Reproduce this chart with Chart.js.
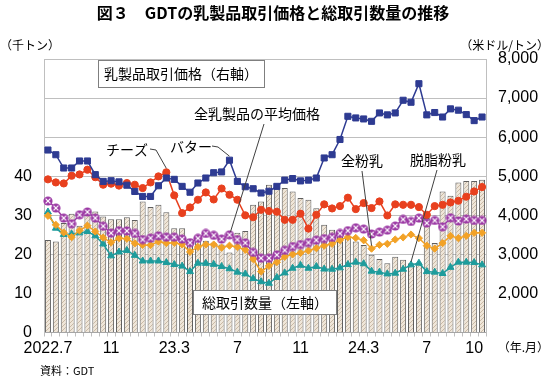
<!DOCTYPE html>
<html><head><meta charset="utf-8">
<script src="https://cdn.jsdelivr.net/npm/chart.js@4.4.1/dist/chart.umd.min.js"></script>
<style>html,body{margin:0;padding:0;background:#fff;}#wrap{width:550px;height:381px;position:relative;}</style>
</head><body><div id="wrap"><canvas id="c" width="550" height="381"></canvas></div>
<script>
// GDT auctions (two per month), 2022.7 - 2024.10
const categories = [
 '2022.7-1','2022.7-2','2022.8-1','2022.8-2','2022.9-1','2022.9-2','2022.10-1','2022.10-2',
 '2022.11-1','2022.11-2','2022.12-1','2022.12-2','2023.1-1','2023.1-2','2023.2-1','2023.2-2',
 '2023.3-1','2023.3-2','2023.4-1','2023.4-2','2023.5-1','2023.5-2','2023.6-1','2023.6-2',
 '2023.7-1','2023.7-2','2023.8-1','2023.8-2','2023.9-1','2023.9-2','2023.10-1','2023.10-2',
 '2023.11-1','2023.11-2','2023.12-1','2023.12-2','2024.1-1','2024.1-2','2024.2-1','2024.2-2',
 '2024.3-1','2024.3-2','2024.4-1','2024.4-2','2024.5-1','2024.5-2','2024.6-1','2024.6-2',
 '2024.7-1','2024.7-2','2024.8-1','2024.8-2','2024.9-1','2024.9-2','2024.10-1','2024.10-2'];
const tickCategories = ['2022.7-1','2022.11-1','2023.3-1','2023.7-1','2023.11-1','2024.3-1','2024.7-1','2024.10-1'];
const tickTexts = ['2022.7','11','23.3','7','11','24.3','7','10'];

// total traded volume (thousand tonnes, left axis)
const volume = [23.7,23.3,28.0,30.4,27.3,30.1,31.0,29.7,29.0,29.0,
 29.5,28.8,33.5,32.1,32.7,30.8,26.7,26.7,23.9,24.2,
 23.5,23.0,22.5,20.5,25.5,26.0,32.7,33.5,37.8,37.4,
 37.0,36.1,34.4,34.0,31.8,27.6,26.3,25.4,24.6,23.3,
 22.4,19.9,18.8,17.7,19.4,18.6,17.7,17.9,29.3,22.9,
 36.1,35.0,38.4,38.8,38.8,39.1];
// prices (US$/t, right axis)
const butter = [5670,5550,5210,5210,5390,5390,5040,4867,4885,4855,
 4770,4610,4482,4482,4756,4954,4920,4740,4590,4826,
 4954,5090,5110,5410,4867,4730,4680,4570,4615,4740,
 4900,4940,4880,4900,4954,5467,5551,5940,6533,6492,
 6466,6405,6620,6570,6620,6944,6893,7368,6570,6630,
 6515,6723,6690,6577,6423,6515];
const cheese = [4920,4841,4815,5013,5045,5167,4975,4782,4808,4760,
 4826,4782,4697,4841,4995,5100,4510,4056,4200,4397,
 4585,4405,4685,4526,4397,4000,3950,4141,4110,4090,
 3885,3885,4040,3660,4013,4280,4175,4235,4450,4159,
 4313,4185,4354,3995,4280,4269,4269,4210,4013,4235,
 4269,4328,4372,4475,4610,4723];
const average = [4365,4185,3928,3782,4013,4085,3928,3720,3544,3605,
 3600,3535,3380,3415,3474,3440,3440,3390,3300,3410,
 3535,3487,3390,3500,3380,3295,3050,2903,2903,2987,
 3105,3200,3252,3303,3363,3403,3435,3535,3607,3680,
 3646,3522,3570,3620,3725,3895,3841,3928,3800,3867,
 3705,3936,3855,3903,3867,3867];
const wmp = [3987,3756,3559,3441,3610,3735,3585,3428,3303,3415,
 3400,3280,3240,3235,3328,3287,3295,3255,3064,3190,
 3252,3252,3172,3222,3190,3115,2880,2559,2705,2800,
 2936,3000,3038,3094,3159,3222,3270,3363,3441,3420,
 3360,3146,3244,3270,3380,3435,3508,3415,3222,3146,
 3287,3474,3415,3474,3550,3550];
const smp = [4085,3670,3510,3520,3550,3585,3474,3265,2962,3060,
 3100,2975,2830,2830,2830,2790,2740,2700,2559,2774,
 2770,2745,2690,2632,2545,2500,2380,2300,2260,2408,
 2525,2646,2720,2646,2690,2624,2620,2655,2740,2800,
 2760,2570,2545,2500,2518,2620,2731,2774,2559,2545,
 2510,2668,2800,2800,2790,2731];

const JP = '"Noto Sans CJK JP", sans-serif';
const NUM = '"Liberation Sans", Arial, sans-serif';

// bar texture
const pc = document.createElement('canvas'); pc.width = 4; pc.height = 4;
const px = pc.getContext('2d');
px.fillStyle = '#EFE6D9'; px.fillRect(0,0,4,4);
px.fillStyle = '#C9B9A5';
px.fillRect(0,0,1,1); px.fillRect(2,2,1,1); px.fillRect(1,3,1,1); px.fillRect(3,1,1,1);
const barPattern = px.createPattern(pc, 'repeat');

// purple circle-with-x marker
const mk = document.createElement('canvas'); mk.width = 10; mk.height = 10;
const mx = mk.getContext('2d');
mx.fillStyle = '#9C3AA5'; mx.beginPath(); mx.arc(5,5,4.6,0,Math.PI*2); mx.fill();
mx.strokeStyle = '#fff'; mx.lineWidth = 1.2;
mx.beginPath(); mx.moveTo(2.6,2.6); mx.lineTo(7.4,7.4); mx.moveTo(7.4,2.6); mx.lineTo(2.6,7.4); mx.stroke();

function txt(ctx, s, x, y, font, align) {
  ctx.save(); ctx.font = font; ctx.fillStyle = '#000'; ctx.textAlign = align || 'center';
  ctx.textBaseline = 'middle'; ctx.fillText(s, x, y); ctx.restore();
}

const deco = {
  id: 'deco',
  afterDatasetsDraw(chart) {
    const ctx = chart.ctx;
    const pt = (ds, i) => chart.getDatasetMeta(ds).data[i];
    // callouts
    ctx.save();
    ctx.strokeStyle = '#404040'; ctx.lineWidth = 1;
    const line = (pts) => { ctx.beginPath(); ctx.moveTo(pts[0][0], pts[0][1]); for (let k = 1; k < pts.length; k++) ctx.lineTo(pts[k][0], pts[k][1]); ctx.stroke(); };
    let p;
    p = pt(2, 15); line([[150,149],[156,150],[p.x, p.y - 4]]);
    p = pt(1, 23); line([[212,146],[218,147],[p.x, p.y - 4]]);
    p = pt(3, 23); line([[264,124],[p.x + 1, p.y - 3]]);
    p = pt(4, 41); line([[362,171],[p.x, p.y - 3]]);
    p = pt(5, 46); line([[437,170],[p.x, p.y - 3]]);
    ctx.restore();
    const f14 = '14px ' + JP;
    txt(ctx, 'チーズ', 127, 150, f14);
    txt(ctx, 'バター', 191, 147, f14);
    txt(ctx, '全乳製品の平均価格', 257, 114, f14);
    txt(ctx, '全粉乳', 362, 161, f14);
    txt(ctx, '脱脂粉乳', 438, 160, f14);
    // legend boxes
    ctx.save();
    ctx.fillStyle = '#fff'; ctx.strokeStyle = '#7F7F7F'; ctx.lineWidth = 1;
    ctx.fillRect(98.5, 60.5, 166, 27); ctx.strokeRect(98.5, 60.5, 166, 27);
    ctx.fillRect(193.5, 290.5, 143, 24); ctx.strokeRect(193.5, 290.5, 143, 24);
    ctx.restore();
    txt(ctx, '乳製品取引価格（右軸）', 181, 74, f14);
    txt(ctx, '総取引数量（左軸）', 265, 303, f14);
  },
  afterDraw(chart) {
    const ctx = chart.ctx;
    txt(ctx, '図３　GDTの乳製品取引価格と総取引数量の推移', 273, 13, 'bold 16px ' + JP);
    txt(ctx, '（千トン）', 0, 45, '12px ' + JP, 'left');
    txt(ctx, '（米ドル/トン）', 549, 45, '12px ' + JP, 'right');
    txt(ctx, '（年.月）', 549, 347, '12px ' + JP, 'right');
    txt(ctx, '資料：GDT', 40, 371, '11px ' + JP, 'left');
  }
};

const lineDs = (label, data, color, style, r) => ({
  type: 'line', label, data, yAxisID: 'yR', borderColor: color, backgroundColor: color,
  borderWidth: 1.5, pointStyle: style, pointRadius: r, pointBorderColor: color,
  pointBackgroundColor: color, pointBorderWidth: 1, tension: 0, order: 1
});

new Chart(document.getElementById('c'), {
  data: {
    labels: categories,
    datasets: [
      { type: 'bar', label: '総取引数量', data: volume, yAxisID: 'yL',
        backgroundColor: barPattern, borderColor: '#5E5E5E', borderWidth: 1,
        barPercentage: 0.76, categoryPercentage: 1.0, order: 10 },
      lineDs('バター', butter, '#2E3B92', 'rect', 4.3),
      lineDs('チーズ', cheese, '#E8401E', 'circle', 3.6),
      Object.assign(lineDs('全乳製品の平均価格', average, '#9C3AA5', mk, 5), { pointBorderWidth: 0 }),
      lineDs('全粉乳', wmp, '#F2A227', 'rectRot', 3.6),
      lineDs('脱脂粉乳', smp, '#1E9C9C', 'triangle', 4)
    ]
  },
  options: {
    responsive: false, animation: false, maintainAspectRatio: false,
    layout: { padding: { top: 59, left: 0, right: 0, bottom: 0 } },
    plugins: { legend: { display: false }, tooltip: { enabled: false }, title: { display: false } },
    scales: {
      x: {
        type: 'category', offset: true,
        grid: { display: true, drawOnChartArea: false, drawTicks: true, tickLength: 4, color: '#BFBFBF', offset: true },
        border: { display: true, color: '#A6A6A6' },
        ticks: { autoSkip: false, maxRotation: 0, minRotation: 0, padding: 2, color: '#000',
          font: { family: NUM, size: 16 },
          callback: (v, i) => { const k = tickCategories.indexOf(categories[i]); return k >= 0 ? tickTexts[k] : ''; } },
        afterFit: s => { s.height = 48.5; }
      },
      yL: {
        position: 'left', min: 0, max: 70,
        grid: { color: '#BFBFBF', drawTicks: false },
        border: { display: true, color: '#BFBFBF' },
        ticks: { stepSize: 10, padding: 12, color: '#000', font: { family: NUM, size: 16 },
          callback: v => (v <= 40 ? String(v) : '') },
        afterFit: s => { s.width = 44; }
      },
      yR: {
        position: 'right', min: 1000, max: 8000,
        grid: { drawOnChartArea: false, drawTicks: false },
        border: { display: true, color: '#BFBFBF' },
        ticks: { stepSize: 1000, padding: 12, color: '#000', font: { family: NUM, size: 16 },
          callback: v => (v >= 2000 ? v.toLocaleString('en-US') : '') },
        afterFit: s => { s.width = 64; }
      }
    }
  },
  plugins: [deco]
});
</script></body></html>
